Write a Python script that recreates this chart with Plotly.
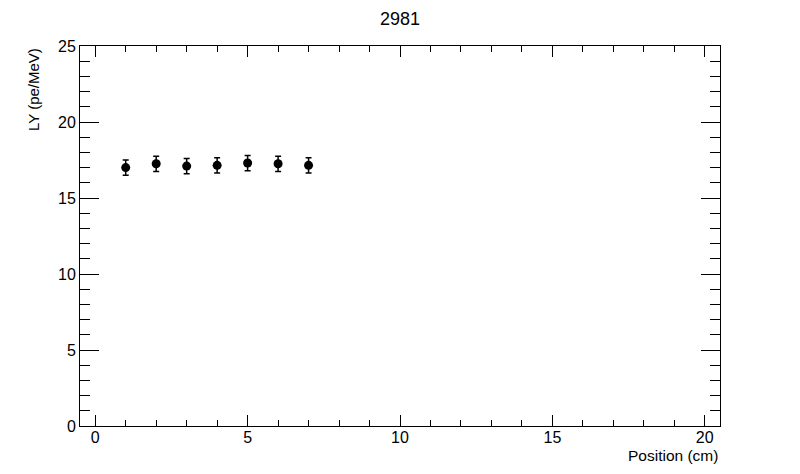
import plotly.graph_objects as go

# LY scan data
position = [1, 2, 3, 4, 5, 6, 7]
light_yield = [17.0, 17.25, 17.1, 17.15, 17.3, 17.25, 17.15]
ly_error = [0.5, 0.5, 0.5, 0.5, 0.5, 0.5, 0.5]

fig = go.Figure()
fig.add_trace(go.Scatter(
    x=position, y=light_yield,
    mode='markers',
    marker=dict(color='black', size=9, symbol='circle'),
    error_y=dict(type='data', array=ly_error, color='black', thickness=1.5, width=3),
    showlegend=False
))

axis_common = dict(
    showgrid=False, zeroline=False, showline=True, linecolor='black', linewidth=1,
    mirror='ticks', ticks='inside', tickcolor='black', tickwidth=1,
    tickfont=dict(family='Liberation Sans, Arial', size=16, color='black'),
)

fig.update_xaxes(range=[-0.5, 20.5], dtick=5, tick0=0, ticklen=11, ticklabelstandoff=-3,
                 minor=dict(dtick=1, ticks='inside', ticklen=6, tickcolor='black'),
                 **axis_common)
fig.update_yaxes(range=[0, 25], dtick=5, tick0=0, ticklen=19,
                 minor=dict(dtick=1, ticks='inside', ticklen=10, tickcolor='black'),
                 **axis_common)

# page body adds an 8px offset, so margins are shifted to compensate
fig.update_layout(
    width=800, height=474,
    margin=dict(l=72, r=88, t=38, b=56),
    plot_bgcolor='white', paper_bgcolor='white',
    font=dict(family='Liberation Sans, Arial', color='black'),
    annotations=[
        dict(text='2981', x=0.5, y=1, xref='paper', yref='paper', showarrow=False,
             yanchor='bottom', yshift=15, font=dict(size=18)),
        dict(text='Position (cm)', x=1, xref='paper', y=0, yref='paper', showarrow=False,
             xanchor='right', yanchor='top', yshift=-19, font=dict(size=15.5)),
        dict(text='LY (pe/MeV)', x=0, xref='paper', y=1, yref='paper', showarrow=False,
             xanchor='right', yanchor='top', xshift=-36, textangle=-90, font=dict(size=15)),
    ],
)

fig.write_html("out.html")
